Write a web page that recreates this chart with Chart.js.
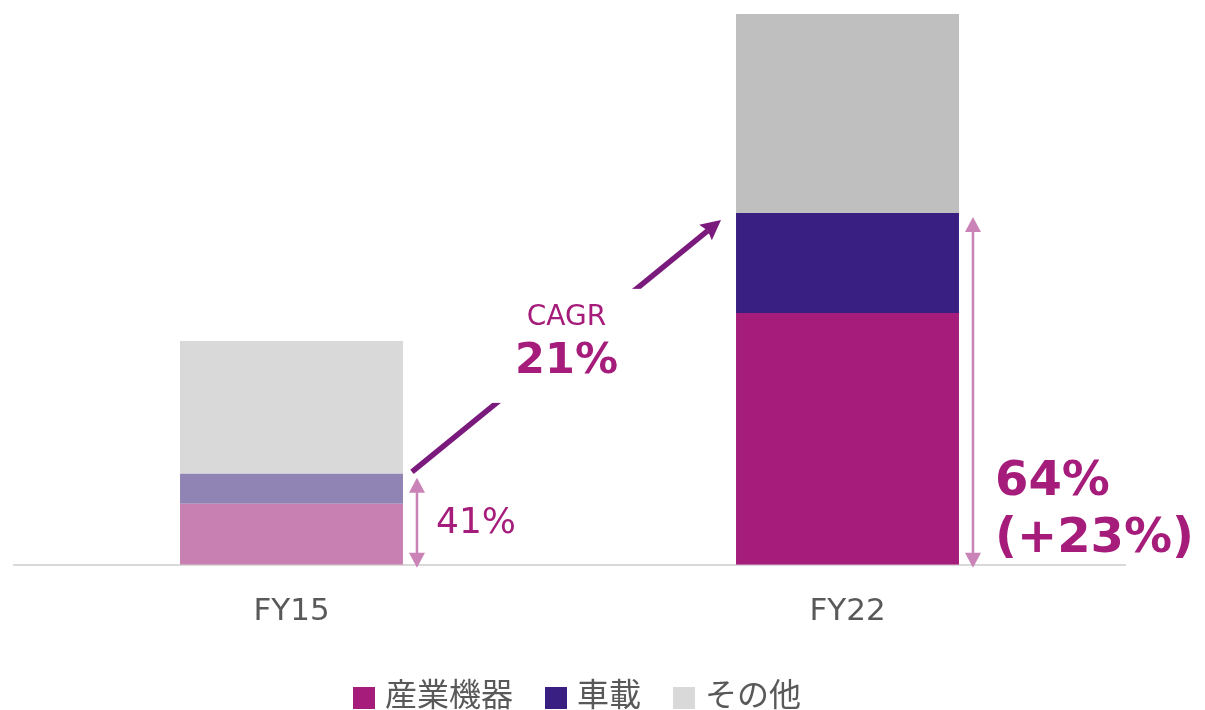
<!DOCTYPE html>
<html>
<head>
<meta charset="utf-8">
<script src="https://cdn.jsdelivr.net/npm/chart.js@4.4.0/dist/chart.umd.min.js"></script>
<style>
  body { margin: 0; background: #fff; }
  #wrap { position: relative; width: 1205px; height: 710px; overflow: hidden; }
  #legend { position: absolute; left: 353px; top: 674px; display: flex; align-items: center;
            font-family: "Noto Sans CJK JP", "Noto Sans", sans-serif; font-size: 32px; color: #595959; line-height: 36px; }
  #legend .item { display: flex; align-items: center; margin-right: 32px; }
  #legend .box { width: 22px; height: 22px; margin-right: 10px; position: relative; top: 6px; }
</style>
</head>
<body>
<div id="wrap">
  <canvas id="chart" width="1205" height="710"></canvas>
  <div id="legend"></div>
</div>
<script>
var years = ['FY15', 'FY22'];
var industrial = [61, 252];
var automotive = [30, 100];
var others = [133, 199];
var seriesNames = ['産業機器', '車載', 'その他'];
var shareLabels = [['41%'], ['64%', '(+23%)']];
var cagrTitle = 'CAGR';
var cagrValue = '21%';

var industrialColors = ['#C880B3', '#A51C7B'];
var automotiveColors = ['#8F84B4', '#3A1F82'];
var otherColors = ['#D9D9D9', '#BFBFBF'];
var legendColors = ['#A51C7B', '#3A1F82', '#D9D9D9'];

var magenta = '#A51C7B';
var arrowColor = '#7B1A7D';
var shareArrowColor = '#C983B7';
var latin = '"DejaVu Sans", Verdana, sans-serif';

// legend (html)
var legend = document.getElementById('legend');
seriesNames.forEach(function (name, i) {
    var item = document.createElement('div');
    item.className = 'item';
    var box = document.createElement('span');
    box.className = 'box';
    box.style.background = legendColors[i];
    item.appendChild(box);
    item.appendChild(document.createTextNode(name));
    legend.appendChild(item);
});

function doubleArrow(ctx, x, top, bottom) {
    var head = 15, half = 8;
    ctx.strokeStyle = shareArrowColor;
    ctx.fillStyle = shareArrowColor;
    ctx.lineWidth = 2.5;
    ctx.beginPath();
    ctx.moveTo(x, top + head - 1);
    ctx.lineTo(x, bottom - head + 1);
    ctx.stroke();
    ctx.beginPath();
    ctx.moveTo(x, top);
    ctx.lineTo(x - half, top + head);
    ctx.lineTo(x + half, top + head);
    ctx.closePath();
    ctx.fill();
    ctx.beginPath();
    ctx.moveTo(x, bottom);
    ctx.lineTo(x - half, bottom - head);
    ctx.lineTo(x + half, bottom - head);
    ctx.closePath();
    ctx.fill();
}

var annotations = {
    id: 'annotations',
    afterDatasetsDraw: function (chart) {
        var ctx = chart.ctx;
        var base = chart.scales.y.getPixelForValue(0);
        var bars = chart.getDatasetMeta(1).data;
        ctx.save();

        // share of industrial + automotive
        bars.forEach(function (bar, i) {
            var x = bar.x + bar.width / 2 + 14;
            doubleArrow(ctx, x, bar.y + 4, base + 3);
            ctx.fillStyle = magenta;
            ctx.textAlign = 'left';
            ctx.textBaseline = 'alphabetic';
            var lines = shareLabels[i];
            if (lines.length === 1) {
                ctx.font = '36px ' + latin;
                ctx.fillText(lines[0], x + 19, base - 32);
            } else {
                ctx.font = 'bold 48px ' + latin;
                ctx.fillText(lines[0], x + 22, base - 70);
                ctx.fillText(lines[1], x + 22, base - 13);
            }
        });

        // CAGR arrow
        var b0 = bars[0], b1 = bars[1];
        var x0 = b0.x + b0.width / 2 + 9, y0 = b0.y - 2;
        var x1 = b1.x - b1.width / 2 - 15, y1 = b1.y + 7;
        var ang = Math.atan2(y1 - y0, x1 - x0);
        var hl = 20, hw = 10;
        var bx = x1 - hl * Math.cos(ang), by = y1 - hl * Math.sin(ang);
        ctx.strokeStyle = arrowColor;
        ctx.fillStyle = arrowColor;
        ctx.lineWidth = 5.5;
        ctx.lineCap = 'butt';
        ctx.beginPath();
        ctx.moveTo(x0, y0);
        ctx.lineTo(bx + 3 * Math.cos(ang), by + 3 * Math.sin(ang));
        ctx.stroke();
        ctx.beginPath();
        ctx.moveTo(x1, y1);
        ctx.lineTo(bx - hw * Math.sin(ang), by + hw * Math.cos(ang));
        ctx.lineTo(bx + 3 * Math.cos(ang), by + 3 * Math.sin(ang));
        ctx.lineTo(bx + hw * Math.sin(ang), by - hw * Math.cos(ang));
        ctx.closePath();
        ctx.fill();

        var mx = (x0 + x1) / 2, my = (y0 + y1) / 2;
        ctx.fillStyle = '#fff';
        ctx.fillRect(x0 + 5, my - 57, x1 - x0 - 30, 114);

        ctx.fillStyle = magenta;
        ctx.textAlign = 'center';
        ctx.font = '28px ' + latin;
        ctx.fillText(cagrTitle, mx, my - 21);
        ctx.font = 'bold 43px ' + latin;
        ctx.fillText(cagrValue, mx, my + 27);
        ctx.restore();
    }
};

var ctx = document.getElementById('chart').getContext('2d');
var chart = new Chart(ctx, {
    type: 'bar',
    data: {
        labels: years,
        datasets: [
            { label: seriesNames[0], data: industrial, backgroundColor: industrialColors },
            { label: seriesNames[1], data: automotive, backgroundColor: automotiveColors },
            { label: seriesNames[2], data: others, backgroundColor: otherColors }
        ]
    },
    options: {
        responsive: false,
        animation: false,
        layout: { padding: { top: 14, bottom: 50, left: 13.5, right: 79.5 } },
        datasets: { bar: { barPercentage: 0.401, categoryPercentage: 1 } },
        plugins: { legend: { display: false }, tooltip: { enabled: false } },
        scales: {
            x: {
                stacked: true,
                grid: { display: false, drawTicks: false },
                border: { display: true, color: '#D9D9D9', width: 2 },
                ticks: { color: '#595959', padding: 29, font: { family: latin, size: 31 } }
            },
            y: {
                stacked: true,
                display: false,
                min: 0,
                max: 551
            }
        }
    },
    plugins: [annotations]
});
</script>
</body>
</html>
